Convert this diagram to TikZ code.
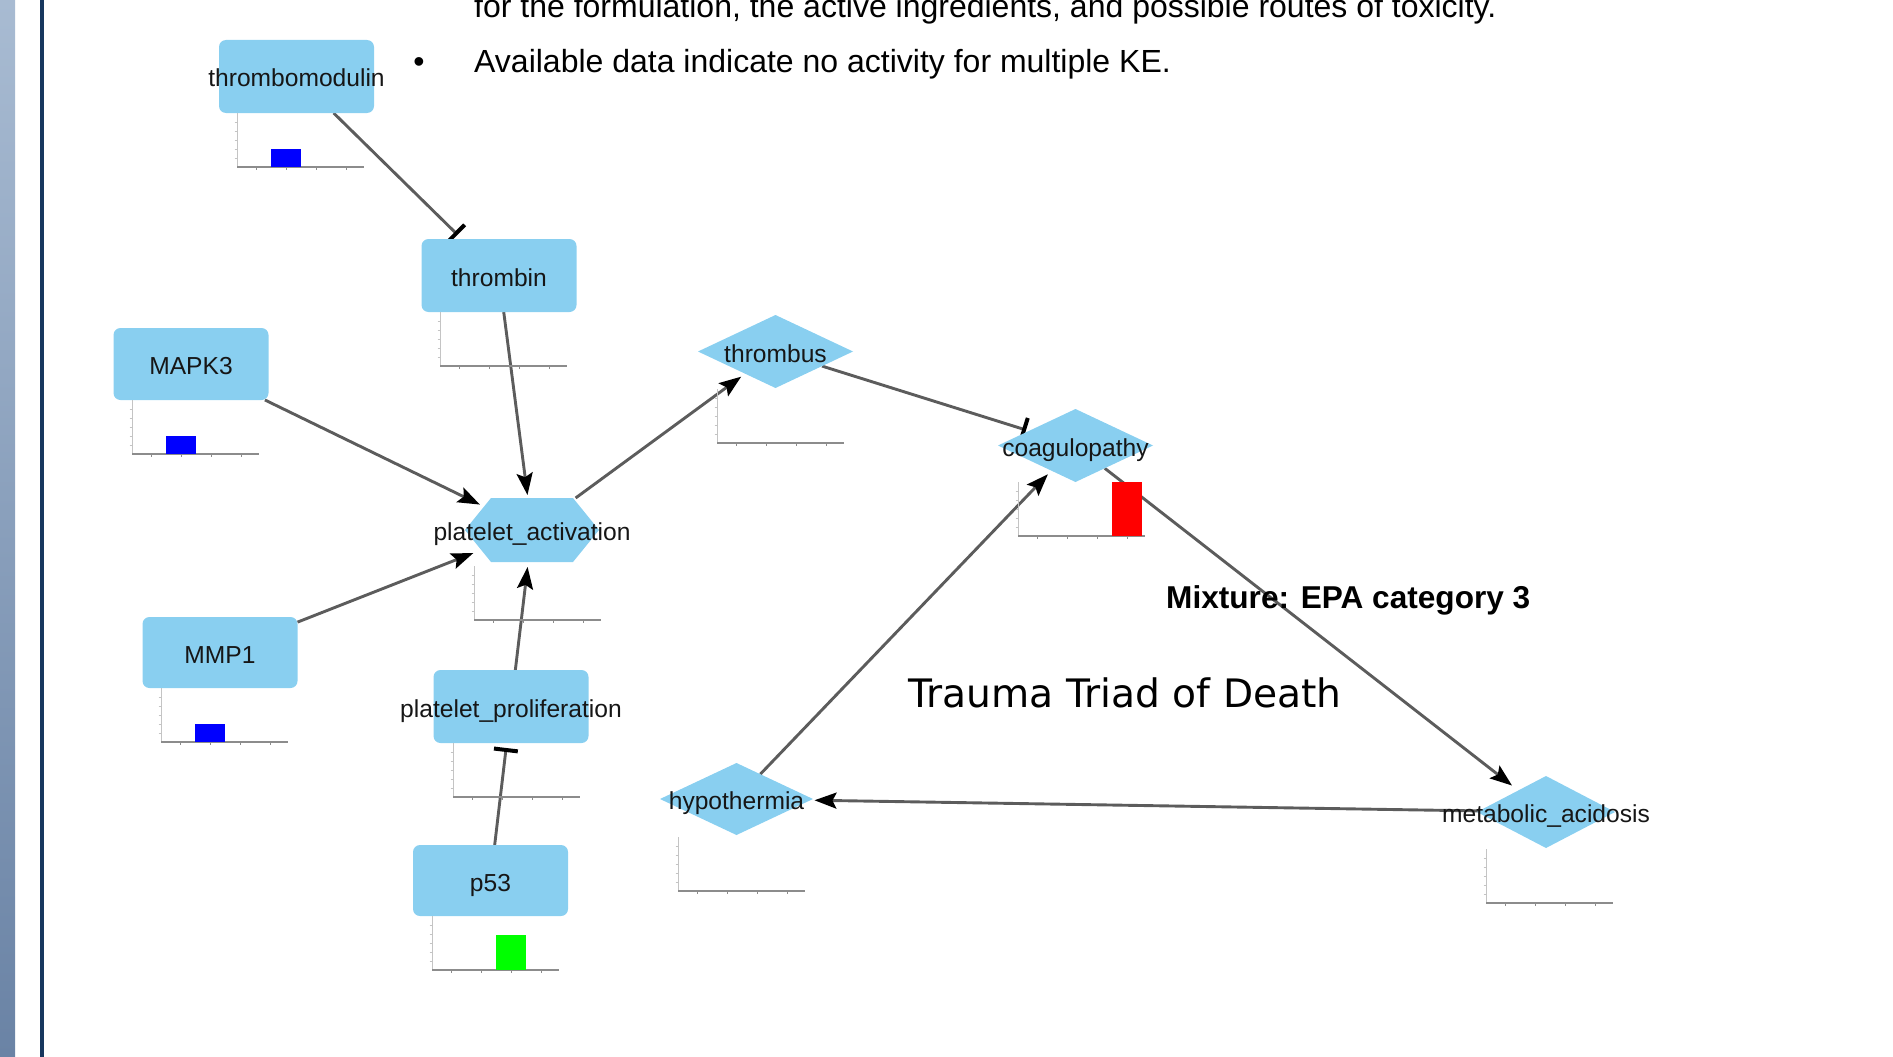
\documentclass[tikz,border=0pt]{standalone}
\usepackage{fontspec}
\setmainfont{Liberation Sans}
\newfontfamily\titlefont{DejaVu Sans}
\usetikzlibrary{arrows.meta,shapes.geometric}

\definecolor{kefill}{HTML}{89CFF0}
\definecolor{edgegray}{HTML}{5C5C5C}
\definecolor{framedark}{HTML}{17375E}
\definecolor{stripetop}{HTML}{A8BBD2}
\definecolor{stripebot}{HTML}{6A83A5}
\definecolor{axisgray}{HTML}{8C8C8C}
\definecolor{axislight}{HTML}{C4C4C4}
\definecolor{barblue}{HTML}{0000FF}
\definecolor{barred}{HTML}{FF0000}
\definecolor{bargreen}{HTML}{00FF00}
\definecolor{labelink}{HTML}{161616}

\pgfdeclarelayer{edges}
\pgfdeclarelayer{fills}
\pgfsetlayers{edges,fills,main}

% label that does not widen its node
\newcommand\kelabel[1]{\makebox[0pt]{#1}}
\newcommand\kenodefont{\fontsize{24.6pt}{29pt}\selectfont}
\newcommand\kebodyfont{\fontsize{32pt}{38pt}\selectfont}

% small activity chart: #1 = left x, #2 = top y
\newcommand\kechart[2]{%
  \draw[axislight, line width=1pt] (#1,#2) -- (#1,#2+54);
  \foreach \t in {9,18,27,36,45}
    \draw[axislight, line width=0.8pt] (#1-2.5,#2+\t) -- (#1,#2+\t);
  \draw[axisgray, line width=1.6pt] (#1,#2+54) -- (#1+127,#2+54);
  \foreach \t in {19,49,79,109}
    \draw[axisgray, line width=0.8pt] (#1+\t,#2+54) -- (#1+\t,#2+57);
}
% bar in a chart: left x, top y, slot, height, colour
\newcommand\kebar[5]{%
  \fill[#5] (#1+4+30*#3,#2+54) rectangle (#1+34+30*#3,#2+54-#4);}

\begin{document}
\begin{tikzpicture}[x=1pt,y=-1pt,
  kebase/.style={inner sep=0pt, outer sep=0pt, font=\kenodefont, text=labelink,
    text height=21pt, text depth=0pt},
  box/.style={kebase, rectangle, rounded corners=7pt, fill=kefill,
    minimum width=155pt, minimum height=73pt},
  event/.style={kebase, diamond, fill=kefill, minimum width=155pt, minimum height=73pt},
  hexbox/.style={kebase, rectangle, minimum width=134pt, minimum height=64pt},
  link/.style={draw=edgegray, line width=2.9pt},
  promote/.style={link, -{Stealth[length=22pt,width=16pt,inset=4pt,color=black]},
    shorten >=5pt},
  inhibit/.style={link, -{Bar[width=24pt,line width=4pt,color=black]},
    shorten >=5pt},
  plain/.style={anchor=base west, inner sep=0pt, font=\kebodyfont, text=black}]

\path[use as bounding box] (0,0) rectangle (1893,1057);
\clip (0,0) rectangle (1893,1057);

% slide frame on the left
\shade[top color=stripetop, bottom color=stripebot] (0,0) rectangle (15,1057);
\fill[framedark] (40,0) rectangle (44,1057);

% slide text
\node[plain] (line1) at (474,18)
  {for the formulation, the active ingredients, and possible routes of toxicity.};
\node[plain] (line2) at (474,73)
  {Available data indicate no activity for multiple KE.};
\node[anchor=base, inner sep=0pt, font=\kebodyfont] (bullet) at (419,73) {•};

% key events
\node[box] (tmod) at (296.5,76.5) {\kelabel{thrombomodulin}};
\node[box] (thrombin) at (499,275.5) {\kelabel{thrombin}};
\node[box, minimum height=72pt] (mapk3) at (191,364) {\kelabel{MAPK3}};
\node[hexbox] (act) at (532,530) {\kelabel{platelet\_activation}};
\node[box, minimum height=71pt] (mmp1) at (220,652.5) {\kelabel{MMP1}};
\node[box] (prolif) at (511,706.5) {\kelabel{platelet\_proliferation}};
\node[box, minimum height=71pt] (p53) at (490.5,880.5) {\kelabel{p53}};
\node[event] (thrombus) at (775.5,351.5) {\kelabel{thrombus}};
\node[event] (coag) at (1075.5,445.5) {\kelabel{coagulopathy}};
\node[event, minimum width=153pt, minimum height=72pt] (hypo) at (736.5,799)
  {\kelabel{hypothermia}};
\node[event, minimum width=138pt, minimum height=72pt] (metab) at (1546,812)
  {\kelabel{metabolic\_acidosis}};

% hexagonal body of the platelet activation event
\begin{pgfonlayer}{fills}
  \fill[kefill] (act.west) -- ([xshift=26pt]act.north west)
    -- ([xshift=-26pt]act.north east) -- (act.east)
    -- ([xshift=-26pt]act.south east) -- ([xshift=26pt]act.south west) -- cycle;
\end{pgfonlayer}

% relationships
\begin{pgfonlayer}{edges}
  \draw[inhibit, shorten >=6pt] (tmod) -- (thrombin);
  \draw[promote, shorten >=3pt] (thrombin) -- (act);
  \draw[promote, shorten >=-15pt] (mapk3) -- (act);
  \draw[promote, shorten >=-9pt] (mmp1) -- (act);
  \draw[promote, shorten >=5pt] (prolif) -- (act);
  \draw[inhibit] (p53) -- (prolif);
  \draw[promote] (act) -- (thrombus);
  \draw[inhibit, shorten >=3pt] (thrombus) -- (coag);
  \draw[promote] (hypo) -- (coag);
  \draw[promote, shorten >=8pt] (coag) -- (metab);
  \draw[promote, shorten >=4pt] (metab) -- (hypo);
\end{pgfonlayer}

% activity charts beneath the events
\kechart{237}{113}
\kechart{440}{312}
\kechart{132}{400}
\kechart{474}{566}
\kechart{161}{688}
\kechart{453}{743}
\kechart{432}{916}
\kechart{717}{389}
\kechart{1018}{482}
\kechart{678}{837}
\kechart{1486}{849}
\kebar{237}{113}{1}{18}{barblue}
\kebar{132}{400}{1}{18}{barblue}
\kebar{161}{688}{1}{18}{barblue}
\kebar{432}{916}{2}{35}{bargreen}
\kebar{1018}{482}{3}{54}{barred}

% annotations
\node[anchor=base west, inner sep=0pt, font=\bfseries\fontsize{31.6pt}{38pt}\selectfont]
  (mixture) at (1166,608) {Mixture: EPA category 3};
\node[anchor=base, inner sep=0pt, font=\titlefont\fontsize{39.2pt}{46pt}\selectfont,
  text=black] (triad) at (1125,707) {Trauma Triad of Death};

\end{tikzpicture}
\end{document}
